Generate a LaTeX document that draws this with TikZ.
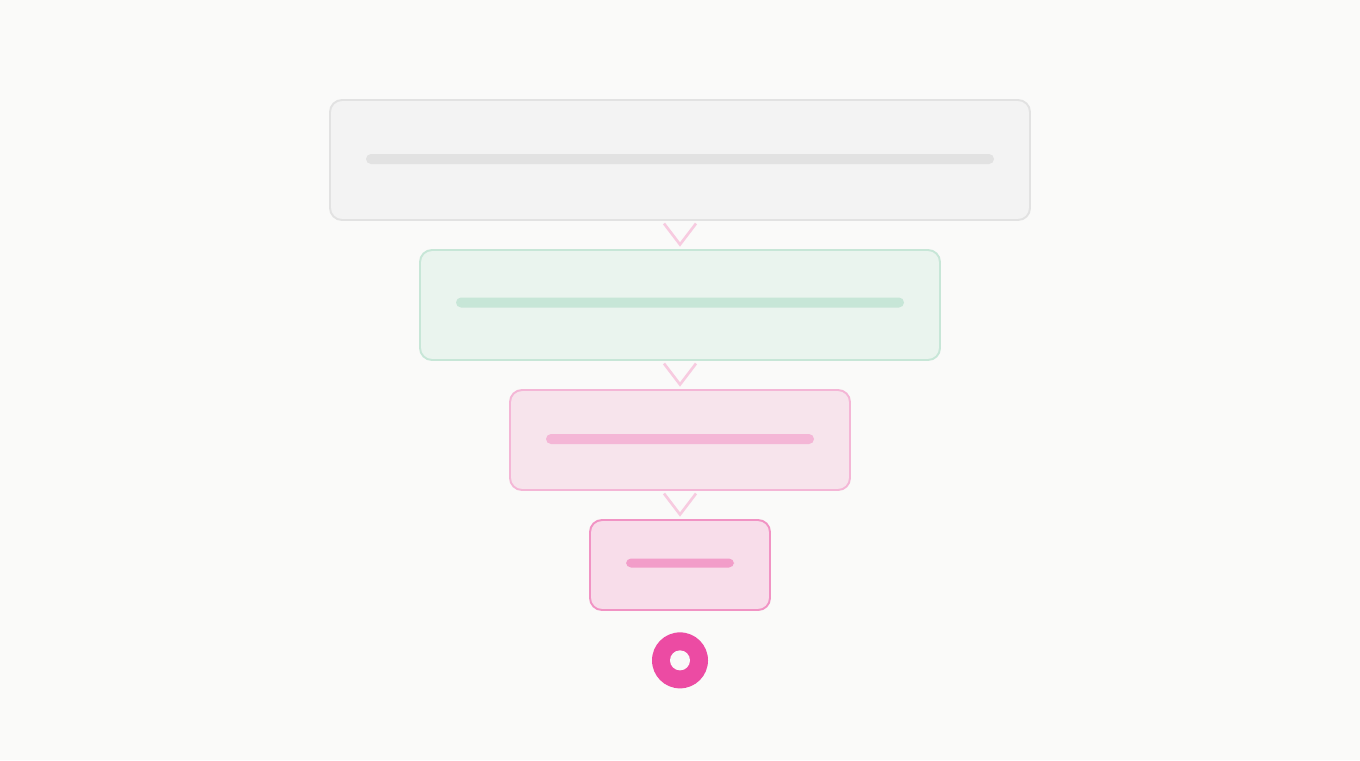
\documentclass[tikz,border=0pt]{standalone}
\usetikzlibrary{positioning,calc}
\definecolor{bgcol}{HTML}{FAFAF9}
\definecolor{greyfill}{HTML}{F3F3F3}
\definecolor{greyline}{HTML}{E2E2E2}
\definecolor{greenfill}{HTML}{EAF4EE}
\definecolor{greenline}{HTML}{C7E6D7}
\definecolor{rosefill}{HTML}{F7E4EC}
\definecolor{roseline}{HTML}{F4B6D6}
\definecolor{pinkfill}{HTML}{F8DDEA}
\definecolor{pinkline}{HTML}{F193C4}
\definecolor{pinkbar}{HTML}{F29DC9}
\definecolor{chevcol}{HTML}{F7CBE0}
\definecolor{dotcol}{HTML}{EC4BA3}
\tikzset{
  stage/.style={rectangle,rounded corners=0.24cm,line width=1.1pt,
                inner sep=0pt,outer sep=0pt},
  bar/.style={rectangle,rounded corners=0.1cm,minimum height=0.2cm,
              inner sep=0pt,outer sep=0pt},
  chevron/.style={draw=chevcol,line width=1.5pt},
  target/.style={circle,fill=dotcol,minimum size=1.12cm,inner sep=0pt},
}
\begin{document}
\begin{tikzpicture}[
    node distance=0.6cm,
    ]
  \fill[bgcol] (0,0) rectangle (27.2,-15.2);
  \useasboundingbox (0,0) rectangle (27.2,-15.2);

  % funnel stages, top to bottom
  \node[stage,draw=greyline,fill=greyfill,
        minimum width=14cm,minimum height=2.4cm]
      (stageA) at (13.6,-3.2) {};
  \node[stage,draw=greenline,fill=greenfill,
        minimum width=10.4cm,minimum height=2.2cm]
      (stageB) [below=of stageA] {};
  \node[stage,draw=roseline,fill=rosefill,
        minimum width=6.8cm,minimum height=2cm]
      (stageC) [below=of stageB] {};
  \node[stage,draw=pinkline,fill=pinkfill,
        minimum width=3.6cm,minimum height=1.8cm]
      (stageD) [below=of stageC] {};

  % placeholder bars
  \node[bar,fill=greyline,minimum width=12.56cm]
      (barA) at ([yshift=0.02cm]stageA.center) {};
  \node[bar,fill=greenline,minimum width=8.96cm]
      (barB) at ([yshift=0.05cm]stageB.center) {};
  \node[bar,fill=roseline,minimum width=5.36cm]
      (barC) at ([yshift=0.02cm]stageC.center) {};
  \node[bar,fill=pinkbar,minimum width=2.16cm,minimum height=0.18cm]
      (barD) at ([yshift=0.04cm]stageD.center) {};

  % chevrons between stages
  \foreach \upper/\lower in {stageA/stageB,stageB/stageC,stageC/stageD} {
    \coordinate (tip) at ($(\upper.south)!0.5!(\lower.north)+(0,-0.19)$);
    \draw[chevron] ([xshift=-0.32cm,yshift=0.42cm]tip) -- (tip)
        -- ([xshift=0.32cm,yshift=0.42cm]tip);
  }

  % outcome
  \node[target] (goal) [below=0.44cm of stageD] {};
  \fill[bgcol] (goal.center) circle (0.2cm);
\end{tikzpicture}
\end{document}
